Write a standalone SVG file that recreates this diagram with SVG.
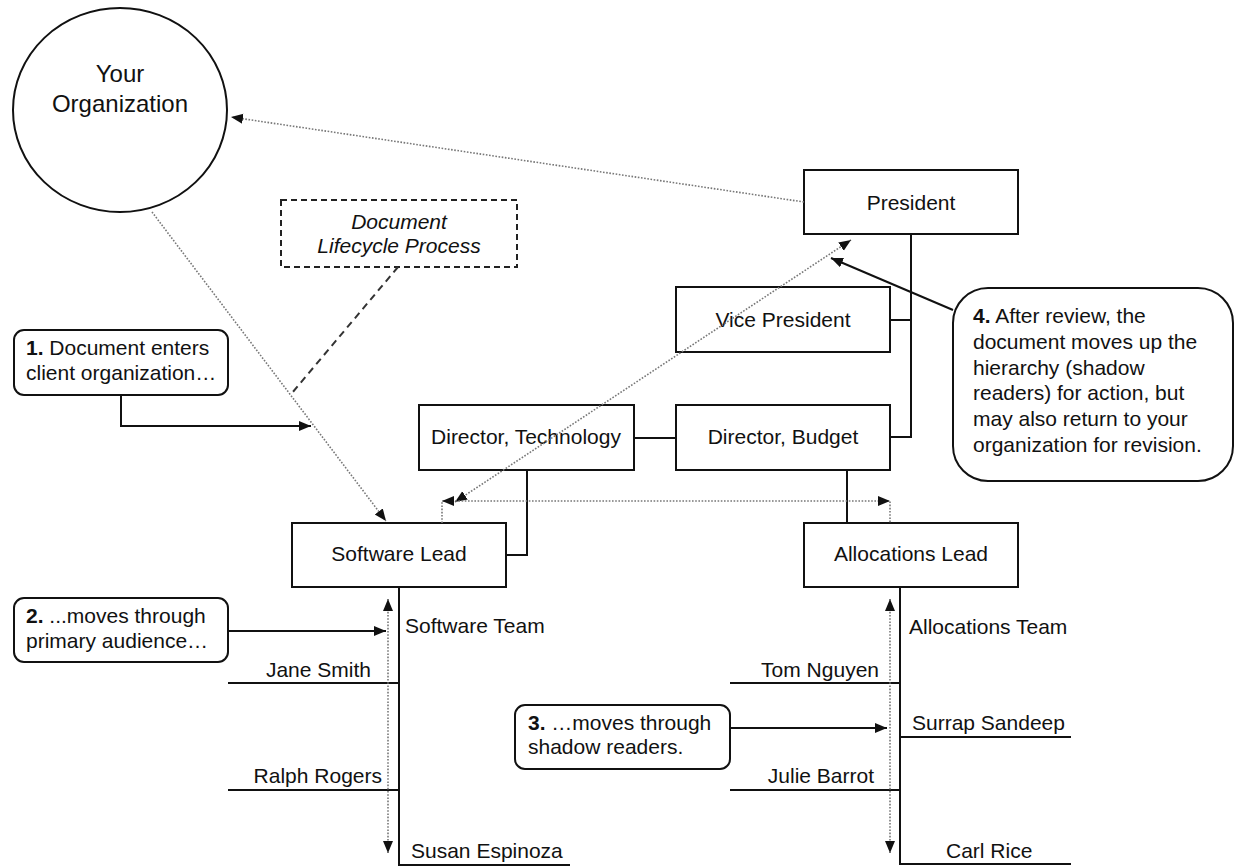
<svg xmlns="http://www.w3.org/2000/svg" width="1236" height="867" viewBox="0 0 1236 867">
<style>
text{font-family:"Liberation Sans",Arial,sans-serif;font-size:21px;fill:#111}
.c{text-anchor:middle}
.e{text-anchor:end}
.b{font-weight:bold}
.box{fill:#fff;stroke:#111;stroke-width:2}
.ln{fill:none;stroke:#111;stroke-width:2}
.dot{fill:none;stroke:#777;stroke-width:1.6;stroke-dasharray:1.6 1.6}
.dash{fill:none;stroke:#333;stroke-width:2;stroke-dasharray:7 5}
.ah{fill:#111}
</style>
<defs>
<marker id="arr" markerUnits="userSpaceOnUse" markerWidth="13" markerHeight="11" refX="12" refY="5" orient="auto-start-reverse"><path d="M0,0 L12,5 L0,10 z" fill="#111"/></marker>
</defs>
<g id="your-organization">
<ellipse class="box" cx="120" cy="110" rx="107" ry="102"/>
<text class="c" x="120" y="82" style="font-size:24px">Your</text>
<text class="c" x="120" y="112" style="font-size:24px">Organization</text>
</g>
<g id="lifecycle">
<rect x="281" y="200" width="236" height="67" fill="#fff" stroke="#222" stroke-width="2" stroke-dasharray="6 4"/>
<text class="c" x="399" y="229" font-style="italic">Document</text>
<text class="c" x="399" y="253" font-style="italic">Lifecycle Process</text>
</g>
<g id="president">
<rect class="box" x="804" y="170" width="214" height="64"/>
<text class="c" x="911" y="210">President</text>
</g>
<g id="vice-president">
<rect class="box" x="676" y="287" width="214" height="65"/>
<text class="c" x="783" y="327">Vice President</text>
</g>
<g id="director-technology">
<rect class="box" x="419" y="405" width="215" height="65"/>
<text class="c" x="526" y="444">Director, Technology</text>
</g>
<g id="director-budget">
<rect class="box" x="676" y="405" width="214" height="65"/>
<text class="c" x="783" y="444">Director, Budget</text>
</g>
<g id="software-lead">
<rect class="box" x="292" y="523" width="214" height="64"/>
<text class="c" x="399" y="561">Software Lead</text>
</g>
<g id="allocations-lead">
<rect class="box" x="804" y="523" width="214" height="64"/>
<text class="c" x="911" y="561">Allocations Lead</text>
</g>
<g id="software-team">
<text x="405" y="633">Software Team</text>
<text class="e" x="371" y="677">Jane Smith</text>
<text class="e" x="382" y="783">Ralph Rogers</text>
<text x="411" y="858">Susan Espinoza</text>
</g>
<g id="allocations-team">
<text x="909" y="634">Allocations Team</text>
<text class="e" x="879" y="677">Tom Nguyen</text>
<text x="912" y="730">Surrap Sandeep</text>
<text class="e" x="874" y="783">Julie Barrot</text>
<text x="946" y="858">Carl Rice</text>
</g>
<g id="callout-1">
<rect class="box" x="14" y="330" width="214" height="65" rx="10"/>
<text x="26" y="355"><tspan class="b">1.</tspan> Document enters</text>
<text x="26" y="380">client organization…</text>
</g>
<g id="callout-2">
<rect class="box" x="14" y="598" width="214" height="64" rx="10"/>
<text x="26" y="623"><tspan class="b">2.</tspan> ...moves through</text>
<text x="26" y="648">primary audience…</text>
</g>
<g id="callout-3">
<rect class="box" x="515" y="705" width="215" height="64" rx="10"/>
<text x="528" y="730"><tspan class="b">3.</tspan> …moves through</text>
<text x="528" y="754">shadow readers.</text>
</g>
<g id="callout-4">
<rect class="box" x="953" y="288" width="280" height="193" rx="35"/>
<text x="973" y="323"><tspan class="b">4.</tspan> After review, the</text>
<text x="973" y="349">document moves up the</text>
<text x="973" y="375">hierarchy (shadow</text>
<text x="973" y="400">readers) for action, but</text>
<text x="973" y="426">may also return to your</text>
<text x="973" y="452">organization for revision.</text>
</g>
<g id="connectors">
<path class="ln" d="M911,234 V437 H890 M911,320 H890"/>
<path class="ln" d="M634,438 H676"/>
<path class="ln" d="M527,470 V555 H506"/>
<path class="ln" d="M847,470 V523"/>
<path class="ln" d="M399,587 V865 H570 M228,683 H399 M228,790 H399"/>
<path class="ln" d="M900,587 V864 H1071 M730,683 H900 M900,737 H1071 M730,790 H900"/>
<line class="dot" x1="804" y1="202" x2="231" y2="117" marker-end="url(#arr)"/>
<line class="dot" x1="152" y1="212" x2="386" y2="521" marker-end="url(#arr)"/>
<line class="dot" x1="455" y1="502" x2="851" y2="240" marker-start="url(#arr)" marker-end="url(#arr)"/>
<path class="dot" d="M442,523 V501 H890 V523"/>
<polygon class="ah" points="442,501 454,496 454,506"/>
<polygon class="ah" points="890,501 878,496 878,506"/>
<line class="dot" x1="388" y1="599" x2="388" y2="853" marker-start="url(#arr)" marker-end="url(#arr)"/>
<line class="dot" x1="890" y1="599" x2="890" y2="853" marker-start="url(#arr)" marker-end="url(#arr)"/>
<line class="dash" x1="398" y1="267" x2="292" y2="393"/>
<path class="ln" d="M121,395 V426 H311" marker-end="url(#arr)"/>
<line class="ln" x1="228" y1="631" x2="386" y2="631" marker-end="url(#arr)"/>
<line class="ln" x1="730" y1="728" x2="887" y2="728" marker-end="url(#arr)"/>
<line class="ln" x1="953" y1="310" x2="831" y2="258" marker-end="url(#arr)"/>
</g>
</svg>
